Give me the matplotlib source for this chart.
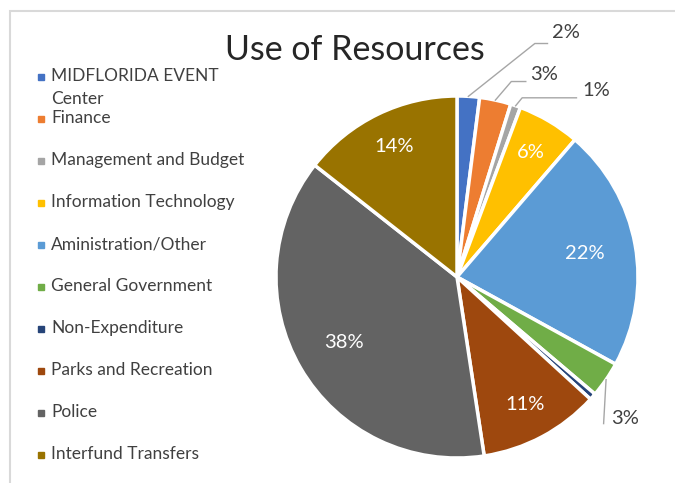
import matplotlib.pyplot as plt
from matplotlib.patches import Rectangle
import numpy as np

plt.rcParams['font.family'] = ['Lato', 'DejaVu Sans']

departments = ['MIDFLORIDA EVENT\nCenter', 'Finance', 'Management and Budget',
               'Information Technology', 'Aministration/Other', 'General Government',
               'Non-Expenditure', 'Parks and Recreation', 'Police', 'Interfund Transfers']
shares = [2.0, 2.8, 0.9, 5.6, 21.7, 3.2, 0.6, 10.8, 38.0, 14.4]
colors = ['#4472C4', '#ED7D31', '#A5A5A5', '#FFC000', '#5B9BD5',
          '#70AD47', '#264478', '#9E480E', '#636363', '#997300']

fig = plt.figure(figsize=(6.75, 4.83), dpi=100)

# light frame around the chart area
fig.patches.append(Rectangle((10 / 675, -0.1), 1.1, 1 - 11 / 483 + 0.1,
                             transform=fig.transFigure, fill=False,
                             edgecolor='#D9D9D9', lw=1.5))

cx, cy, r = 457, 277, 181
ax = fig.add_axes([(cx - r) / 675, (483 - cy - r) / 483, 2 * r / 675, 2 * r / 483])
wedges, _ = ax.pie(shares, colors=colors, startangle=90, counterclock=False,
                   wedgeprops=dict(edgecolor='white', linewidth=2.5))
ax.set_xlim(-1, 1)
ax.set_ylim(-1, 1)
ax.set_aspect('equal')
ax.axis('off')

# inside labels (white) and outside labels with leader lines
outside = {
    0: ((0.60, 1.35), [(0.43, 1.29), (0.50, 1.29)]),
    1: ((0.48, 1.12), [(0.30, 1.08), (0.38, 1.08)]),
    2: ((0.77, 1.03), [(0.36, 0.99), (0.66, 0.99)]),
    5: ((0.93, -0.78), [(0.81, -0.81)]),
}
for i, (w, v) in enumerate(zip(wedges, shares)):
    if v < 0.8 and i not in outside:
        continue
    ang = np.deg2rad((w.theta1 + w.theta2) / 2)
    label = f'{round(v):.0f}%'
    if i in outside:
        pos, elbow = outside[i]
        pts = [(np.cos(ang), np.sin(ang))] + elbow
        xs, ys = zip(*pts)
        ax.plot(xs, ys, color='#A6A6A6', lw=1, clip_on=False)
        ax.text(pos[0], pos[1], label, ha='center', va='center',
                fontsize=14.5, color='#404040')
    else:
        d = 0.72 if v > 20 else 0.8
        ax.text(d * np.cos(ang), d * np.sin(ang), label, ha='center',
                va='center', fontsize=14.5, color='white')

fig.text(355 / 675, 1 - 50 / 483, 'Use of Resources', ha='center', va='center',
         fontsize=24.5, color='#262626')

# legend column on the left; the first entry wraps onto two lines
rows = [77] + [119 + 42 * k for k in range(len(departments) - 1)]
for name, c, row in zip(departments, colors, rows):
    y = 1 - row / 483
    fig.patches.append(Rectangle((38 / 675, y - 3 / 483), 6 / 675, 6 / 483,
                                 transform=fig.transFigure, color=c))
    fig.text(51 / 675, y + 9 / 483, name, ha='left', va='top', fontsize=12.5,
             color='#404040', linespacing=1.5)

fig.savefig('out.png', dpi=100)
